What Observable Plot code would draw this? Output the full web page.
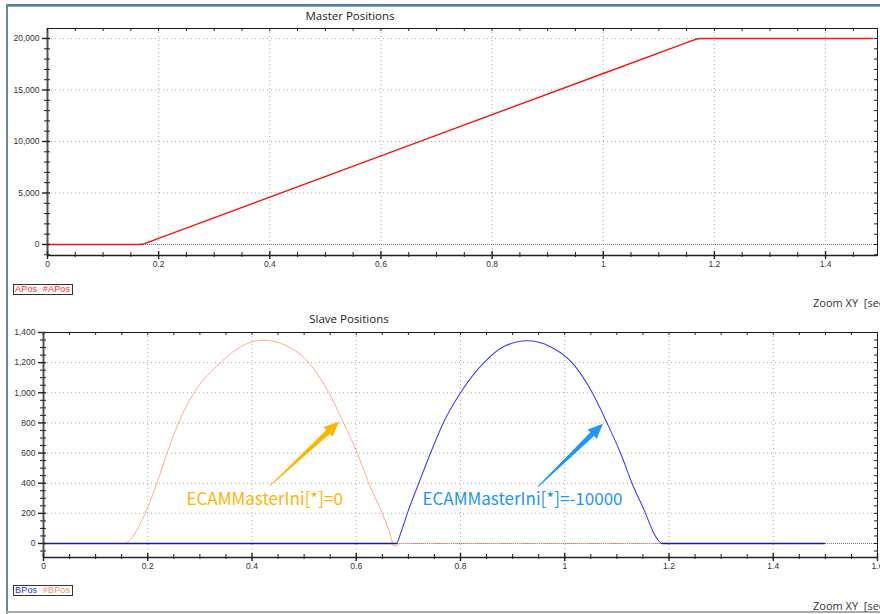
<!DOCTYPE html>
<html>
<head>
<meta charset="utf-8">
<script src="https://cdn.jsdelivr.net/npm/d3@7"></script>
<script src="https://cdn.jsdelivr.net/npm/@observablehq/plot@0.6"></script>
<style>
html,body{margin:0;padding:0;width:880px;height:614px;overflow:hidden;background:#fff;}
#wrap{position:relative;width:880px;height:614px;overflow:hidden;background:#fff;}
.abs{position:absolute;white-space:pre;}
.title{font-family:"Open Sans","Noto Sans",sans-serif;font-size:11.5px;color:#222;transform:translateX(-50%);}
.zoom{font-family:"Open Sans","Noto Sans",sans-serif;font-size:11px;color:#333;}
.legend{border:1px solid #333;font-family:"Liberation Sans",Arial,sans-serif;font-size:9px;line-height:9px;padding:0 1px;height:9px;width:56px;overflow:hidden;letter-spacing:0.2px;}
svg{display:block;}
</style>
</head>
<body>
<div id="wrap">
  <div class="abs" style="left:6px;top:4px;width:874px;height:2px;background:#4f8399;"></div>
  <div class="abs" style="left:6px;top:6px;width:874px;height:1px;background:#8fa9b4;"></div>
  <div class="abs" style="left:6px;top:4px;width:2px;height:610px;background:#6a8995;"></div>
  <div class="abs" style="left:6px;top:611px;width:874px;height:2px;background:#a9a9a9;"></div>
  <div id="top" class="abs" style="left:0;top:0;"></div>
  <div id="bot" class="abs" style="left:0;top:300px;"></div>
  <div class="abs title" style="left:350px;top:8px;">Master Positions</div>
  <div class="abs title" style="left:349px;top:311px;">Slave Positions</div>
  <div class="abs legend" style="left:13px;top:284px;"><span style="color:#ff2a2a">APos</span>  <span style="color:#ff2a2a">#APos</span></div>
  <div class="abs legend" style="left:13px;top:585px;"><span style="color:#2a2aff">BPos</span>  <span style="color:#ff8a66">#BPos</span></div>
  <div class="abs zoom" style="left:813px;top:295px;">Zoom XY  [sec]</div>
  <div class="abs zoom" style="left:813px;top:598px;">Zoom XY  [sec]</div>
</div>
<script>
// ---------- data ----------
// Master positions (APos), time in seconds
const masterT = [0, 0.165, 0.172, 0.18, 0.2, 0.6, 1.0, 1.16, 1.168, 1.176, 1.485];
const masterV = [0, 0, 40, 190, 590, 8600, 16600, 19800, 19950, 20000, 20000];

// Slave positions (BPos, blue)
const slaveT = [0, 0.677, 0.685, 0.698, 0.72, 0.7425, 0.767, 0.80, 0.845, 0.885, 0.928, 0.9725, 1.014, 1.053, 1.081, 1.107, 1.129, 1.155, 1.171, 1.187, 1.498];
const slaveV = [0, 0, 66, 200, 400, 600, 800, 1000, 1200, 1310, 1345, 1306, 1200, 1000, 800, 600, 400, 200, 66, 0, 0];

// Slave positions (#BPos, salmon dotted)
const camT = [0, 0.154, 0.167, 0.179, 0.195, 0.2175, 0.237, 0.259, 0.289, 0.3396, 0.378, 0.4227, 0.467, 0.509, 0.5474, 0.576, 0.6018, 0.624, 0.6497, 0.6625, 0.6734, 0.685, 1.19];
const camV = [0, 0, 26, 88, 200, 400, 600, 800, 1000, 1200, 1305, 1349, 1310, 1200, 1000, 800, 600, 400, 200, 88, -18, 0, 0];

// Tick labels
const topXTicks = [0, 0.2, 0.4, 0.6, 0.8, 1, 1.2, 1.4];
const topYTicks = [0, 5000, 10000, 15000, 20000];
const botXTicks = [0, 0.2, 0.4, 0.6, 0.8, 1, 1.2, 1.4, 1.6];
const botYTicks = [0, 200, 400, 600, 800, 1000, 1200, 1400];

// Annotations (bottom panel, data coordinates)
const annLabels = ["ECAMMasterIni[*]=0", "ECAMMasterIni[*]=-10000"];
const annColors = ["#ffb400", "#2196f3"];
const annTextT = [0.2743, 0.727];
const annTextV = [290, 290];
const arrowT0 = [0.4355, 0.9497];
const arrowV0 = [380, 374];
const arrowT1 = [0.568, 1.0743];
const arrowV1 = [805, 792];

// ---------- helpers ----------
const W = 880;
const zip = (ts, vs) => ts.map((t, i) => ({t, v: vs[i]}));
const minors = (lo, hi, step, majors) =>
  d3.range(Math.round(lo / step), Math.round(hi / step) + 1).map(k => +(k * step).toFixed(6)).filter(d => !majors.some(m => Math.abs(m - d) < 1e-9));

function arrowMark(t0, v0, t1, v1, colors) {
  return (index, scales) => {
    const ns = "http://www.w3.org/2000/svg";
    const g = document.createElementNS(ns, "g");
    const sx = typeof scales.x === "function" ? scales.x : scales.scales.x.apply;
    const sy = typeof scales.y === "function" ? scales.y : scales.scales.y.apply;
    for (let i = 0; i < t0.length; i++) {
      const x0 = sx(t0[i]), y0 = sy(v0[i]), x1 = sx(t1[i]), y1 = sy(v1[i]);
      const L = Math.hypot(x1 - x0, y1 - y0);
      const ux = (x1 - x0) / L, uy = (y1 - y0) / L;
      const nx = -uy, ny = ux;
      const hl = 15, bx = x1 - ux * hl, by = y1 - uy * hl;
      const pts = [
        [x0 + nx * 0.4, y0 + ny * 0.4],
        [bx + nx * 2.6, by + ny * 2.6],
        [bx + nx * 6.5, by + ny * 6.5],
        [x1, y1],
        [bx - nx * 6.5, by - ny * 6.5],
        [bx - nx * 2.6, by - ny * 2.6],
        [x0 - nx * 0.4, y0 - ny * 0.4]
      ];
      const p = document.createElementNS(ns, "polygon");
      p.setAttribute("points", pts.map(d => d.join(",")).join(" "));
      p.setAttribute("fill", colors[i]);
      g.appendChild(p);
    }
    return g;
  };
}

function panel({height, mTop, mBottom, mLeft, mRight, xDomain, yDomain, xMajor, yMajor, xStep, yStep, yFormat, lines, extra}) {
  const innerH = height - mTop - mBottom;
  const innerW = W - mLeft - mRight;
  const xMinor = minors(0, xDomain[1], xStep, xMajor);
  const yMinor = minors(Math.ceil(yDomain[0] / yStep) * yStep, yDomain[1], yStep, yMajor).filter(d => d >= yDomain[0] && d <= yDomain[1]);
  const tickStroke = "#222";
  return Plot.plot({
    width: W, height,
    marginTop: mTop, marginBottom: mBottom, marginLeft: mLeft, marginRight: mRight,
    x: {domain: xDomain, axis: null},
    y: {domain: yDomain, axis: null},
    style: {background: "transparent", overflow: "visible"},
    marks: [
      Plot.ruleX(xMajor.filter(d => d > xDomain[0] && d < xDomain[1]), {stroke: "#a8a8a8", strokeDasharray: "1,3"}),
      Plot.ruleY(yMajor.filter(d => d !== 0 && d < yDomain[1]), {stroke: "#a8a8a8", strokeDasharray: "1,3"}),
      Plot.ruleY([0], {stroke: "#7a7a7a", strokeDasharray: "1,1"}),
      ...lines,
      Plot.frame({stroke: "#1e1e1e"}),
      Plot.ruleX([xDomain[0]], {stroke: "#555", strokeWidth: 2}),
      Plot.ruleY([yDomain[0]], {stroke: "#222", strokeWidth: 1.3}),
      Plot.tickX(xMajor, {x: d => d, insetTop: innerH - 8, dy: 4, stroke: tickStroke, strokeWidth: 1.4}),
      Plot.tickX(xMinor, {x: d => d, insetTop: innerH - 5, dy: 2, stroke: tickStroke}),
      Plot.tickX(xMinor.concat(xMajor), {x: d => d, insetBottom: innerH - 3, stroke: tickStroke}),
      Plot.tickY(yMajor, {y: d => d, insetRight: innerW - 8, dx: -5, stroke: tickStroke, strokeWidth: 1.4}),
      Plot.tickY(yMinor, {y: d => d, insetRight: innerW - 6, dx: -3, stroke: tickStroke}),
      Plot.tickY(yMinor.concat(yMajor), {y: d => d, insetLeft: innerW - 3, stroke: tickStroke}),
      Plot.text(yMajor, {y: d => d, text: d => yFormat(d), frameAnchor: "left", dx: -8, textAnchor: "end", fontSize: 8.5, fill: "#333", fontFamily: "Liberation Sans, Arial, sans-serif"}),
      Plot.text(xMajor, {x: d => d, text: d => String(d), frameAnchor: "bottom", dy: 11, fontSize: 8.5, fill: "#333", fontFamily: "Liberation Sans, Arial, sans-serif"}),
      ...(extra || [])
    ]
  });
}

const fmt = d3.format(",");

document.getElementById("top").appendChild(panel({
  height: 280, mTop: 28, mBottom: 25, mLeft: 47, mRight: 3,
  xDomain: [0, 1.4935], yDomain: [-1070, 20970],
  xMajor: topXTicks, yMajor: topYTicks, xStep: 0.05, yStep: 1000, yFormat: fmt,
  lines: [
    Plot.line(zip(masterT, masterV), {x: "t", y: "v", stroke: "#f01818", strokeWidth: 1.4})
  ]
}));

const annData = annLabels.map((s, i) => ({s, t: annTextT[i], v: annTextV[i], c: annColors[i]}));
const slaveData = zip(slaveT, slaveV);

document.getElementById("bot").appendChild(panel({
  height: 280, mTop: 32, mBottom: 23, mLeft: 43, mRight: 3,
  xDomain: [0, 1.6], yDomain: [-93, 1400],
  xMajor: botXTicks, yMajor: botYTicks, xStep: 0.05, yStep: 50, yFormat: fmt,
  lines: [
    Plot.line(zip(camT, camV), {x: "t", y: "v", stroke: "#ff8a66", strokeWidth: 1, strokeDasharray: "1,1.2", strokeOpacity: 0.9, curve: "monotone-x"}),
    Plot.line(slaveData, {x: "t", y: "v", stroke: "#3a3af6", strokeWidth: 1.05, curve: "monotone-x"}),
    Plot.line(slaveData.filter(d => d.v === 0 && d.t <= 0.7), {x: "t", y: "v", stroke: "#1a1aa8", strokeWidth: 1.6}),
    Plot.line(slaveData.filter(d => d.v === 0 && d.t >= 1.1), {x: "t", y: "v", stroke: "#1a1aa8", strokeWidth: 1.6})
  ],
  extra: [
    arrowMark(arrowT0, arrowV0, arrowT1, arrowV1, annColors),
    Plot.text(annData, {x: "t", y: "v", text: "s", fill: "c", textAnchor: "start", fontSize: 17, fontFamily: "Noto Sans CJK SC, Noto Sans, sans-serif"})
  ]
}));
</script>
</body>
</html>
